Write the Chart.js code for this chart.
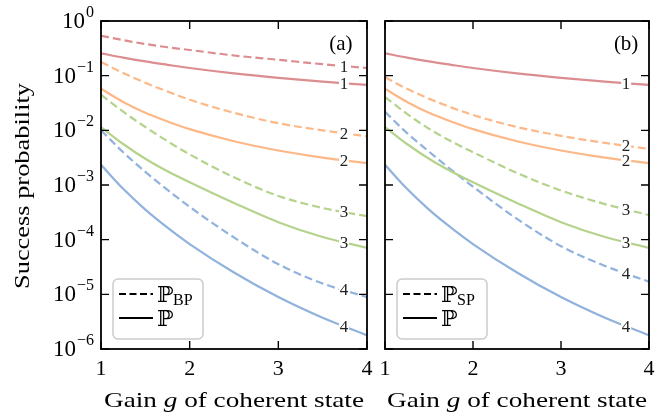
<!DOCTYPE html>
<html>
<head>
<meta charset="utf-8">
<script src="https://cdn.jsdelivr.net/npm/chart.js@4/dist/chart.umd.min.js"></script>
<style>
  html, body { margin: 0; padding: 0; background: #fff; }
  #wrap { position: relative; width: 664px; height: 413px; overflow: hidden; }
  canvas { position: absolute; top: 0; }
</style>
</head>
<body>
<div id="wrap">
  <canvas id="left" width="380" height="413" style="left:0"></canvas>
  <canvas id="right" width="292" height="413" style="left:372px"></canvas>
</div>
<script>
// gain g of the coherent state
const gain = [1, 1.25, 1.5, 1.75, 2, 2.5, 3, 3.5, 4];

// plain success probability P, photon numbers 1..4 (same in both panels)
const p1 = [0.257, 0.214, 0.182, 0.158, 0.138, 0.110, 0.0912, 0.0776, 0.0676];
const p2 = [0.0575, 0.0331, 0.0209, 0.0145, 0.0105, 0.00631, 0.00427, 0.00316, 0.00251];
const p3 = [0.0115, 0.00562, 0.00302, 0.00178, 0.00112, 0.000468, 0.000209, 0.000112, 0.0000708];
const p4 = [0.00234, 0.000851, 0.000355, 0.000166, 0.0000832, 0.0000251, 0.0000089, 0.00000372, 0.00000178];

// panel (a): P_BP
const pBP1 = [0.537, 0.447, 0.380, 0.331, 0.295, 0.234, 0.195, 0.162, 0.138];
const pBP2 = [0.178, 0.112, 0.0741, 0.0513, 0.0363, 0.0209, 0.0135, 0.0100, 0.00776];
const pBP3 = [0.0447, 0.0219, 0.0115, 0.00631, 0.00363, 0.00138, 0.000631, 0.000380, 0.000269];
const pBP4 = [0.01, 0.00398, 0.00174, 0.000813, 0.000398, 0.000110, 0.0000355, 0.0000158, 0.0000089];

// panel (b): P_SP
const pSP2 = [0.0933, 0.0575, 0.0380, 0.0263, 0.0191, 0.0115, 0.00794, 0.00589, 0.00457];
const pSP3 = [0.0407, 0.0200, 0.0107, 0.00631, 0.00398, 0.00166, 0.000794, 0.000447, 0.000282];
const pSP4 = [0.0219, 0.00891, 0.00407, 0.00191, 0.000933, 0.000240, 0.0000759, 0.0000331, 0.0000170];

const xTicks = [1, 2, 3, 4];
const yDecades = [0, -1, -2, -3, -4, -5, -6];

const colors = { 1: "#db8d90", 2: "#fdb888", 3: "#b5d38c", 4: "#91b2dd" };
const SERIF = "'Liberation Serif', 'DejaVu Serif', serif";
const LABEL_G = 3.74;

function series(vals, n, dashed) {
  return {
    data: gain.map((g, i) => ({ x: g, y: vals[i] })),
    borderColor: colors[n],
    borderWidth: 2.2,
    borderDash: dashed ? [8, 4] : [],
    pointRadius: 0,
    cubicInterpolationMode: "monotone",
    fill: false,
    tag: String(n),
  };
}

function yAt(meta, px) {
  const pts = meta.data;
  for (let i = 0; i < pts.length - 1; i++) {
    const a = pts[i], b = pts[i + 1];
    if (px >= a.x && px <= b.x) {
      const t = (px - a.x) / (b.x - a.x);
      return a.y + t * (b.y - a.y);
    }
  }
  return pts[pts.length - 1].y;
}

function fitText(ctx, text, x, y, width) {
  const w = ctx.measureText(text).width;
  ctx.save();
  ctx.translate(x, y);
  ctx.scale(width / w, 1);
  ctx.fillText(text, 0, 0);
  ctx.restore();
}

function framePlugin(opts) {
  return {
    id: "frame",
    afterDatasetsDraw(chart) {
      const ctx = chart.ctx;
      const { left, right, top, bottom } = chart.chartArea;
      const xs = chart.scales.x, ys = chart.scales.y;
      ctx.save();

      // curve labels with white knock-out
      ctx.font = "17px " + SERIF;
      ctx.textAlign = "center";
      ctx.textBaseline = "middle";
      chart.data.datasets.forEach((ds, i) => {
        const meta = chart.getDatasetMeta(i);
        const px = xs.getPixelForValue(LABEL_G);
        const py = yAt(meta, px);
        ctx.fillStyle = "#fff";
        ctx.fillRect(px - 5, py - 6, 10, 12);
        ctx.fillStyle = "#222";
        ctx.fillText(ds.tag, px, py + 1);
      });

      // frame
      ctx.strokeStyle = "#000";
      ctx.lineWidth = 1.8;
      ctx.strokeRect(left, top, right - left, bottom - top);

      // inward ticks
      ctx.lineWidth = 1.4;
      ctx.beginPath();
      xTicks.forEach(v => {
        const px = xs.getPixelForValue(v);
        ctx.moveTo(px, bottom); ctx.lineTo(px, bottom - 8);
        ctx.moveTo(px, top); ctx.lineTo(px, top + 8);
      });
      yDecades.forEach(e => {
        const py = ys.getPixelForValue(Math.pow(10, e));
        ctx.moveTo(left, py); ctx.lineTo(left + 8, py);
        ctx.moveTo(right, py); ctx.lineTo(right - 8, py);
      });
      ctx.stroke();

      // x tick labels
      ctx.fillStyle = "#000";
      ctx.font = "22px " + SERIF;
      ctx.textAlign = "center";
      ctx.textBaseline = "middle";
      xTicks.forEach(v => ctx.fillText(String(v), xs.getPixelForValue(v), 369));

      // x title
      ctx.textAlign = "left";
      ctx.textBaseline = "alphabetic";
      const cx = (left + right) / 2;
      const parts = [["Gain ", ""], ["g", "italic "], [" of coherent state", ""]];
      let total = 0;
      parts.forEach(p => { ctx.font = p[1] + "21px " + SERIF; total += ctx.measureText(p[0]).width; });
      const k = 260 / total;
      let x0 = cx - 130;
      parts.forEach(p => {
        ctx.font = p[1] + "21px " + SERIF;
        const w = ctx.measureText(p[0]).width * k;
        fitText(ctx, p[0], x0, 407, w);
        x0 += w;
      });

      // y axis labels and title (left panel only)
      if (opts.yLabels) {
        yDecades.forEach(e => {
          const py = ys.getPixelForValue(Math.pow(10, e));
          const sup = e === 0 ? "0" : "\u2212" + (-e);
          ctx.font = "16px " + SERIF;
          const sw = ctx.measureText(sup).width;
          ctx.textAlign = "right";
          ctx.fillText(sup, 94, py - 4);
          ctx.font = "23px " + SERIF;
          ctx.textBaseline = "middle";
          ctx.fillText("10", 94 - sw - 1, py + 1);
          ctx.textBaseline = "alphabetic";
        });
        ctx.save();
        ctx.translate(29, 186);
        ctx.rotate(-Math.PI / 2);
        ctx.font = "21px " + SERIF;
        ctx.textAlign = "left";
        fitText(ctx, "Success probability", -103, 0, 206);
        ctx.restore();
      }

      // panel letter
      ctx.font = "21px " + SERIF;
      ctx.textAlign = "center";
      ctx.textBaseline = "middle";
      ctx.fillText(opts.letter, xs.getPixelForValue(LABEL_G) + (opts.letter === "(a)" ? -3 : 0), 44);

      // legend
      const lx = left + opts.legendDx, ly = 279, lw = 90, lh = 60;
      ctx.beginPath();
      ctx.roundRect(lx, ly, lw, lh, 5);
      ctx.fillStyle = "rgba(255,255,255,0.85)";
      ctx.fill();
      ctx.strokeStyle = "#cccccc";
      ctx.lineWidth = 1.5;
      ctx.stroke();
      ctx.strokeStyle = "#000";
      ctx.lineWidth = 2.2;
      ctx.beginPath();
      ctx.setLineDash([7, 3.5]);
      ctx.moveTo(lx + 6, ly + 15); ctx.lineTo(lx + 40, ly + 15);
      ctx.stroke();
      ctx.setLineDash([]);
      ctx.beginPath();
      ctx.moveTo(lx + 6, ly + 39); ctx.lineTo(lx + 40, ly + 39);
      ctx.stroke();
      ctx.fillStyle = "#000";
      ctx.textAlign = "left";
      ctx.textBaseline = "alphabetic";
      ctx.font = "22px " + SERIF;
      ctx.fillText("\u2119", lx + 44, ly + 23);
      ctx.fillText("\u2119", lx + 44, ly + 47);
      ctx.font = "16px " + SERIF;
      ctx.fillText(opts.sub, lx + 60, ly + 26);

      ctx.restore();
    }
  };
}

function makeChart(id, datasets, padding, opts) {
  return new Chart(document.getElementById(id), {
    type: "line",
    data: { datasets },
    options: {
      responsive: false,
      animation: false,
      devicePixelRatio: 1,
      layout: { padding },
      plugins: { legend: { display: false }, tooltip: { enabled: false } },
      scales: {
        x: { type: "linear", min: 1, max: 4, display: false },
        y: { type: "logarithmic", min: 1e-6, max: 1, display: false },
      },
    },
    plugins: [framePlugin(opts)],
  });
}

makeChart("left", [
  series(pBP1, 1, true), series(p1, 1, false),
  series(pBP2, 2, true), series(p2, 2, false),
  series(pBP3, 3, true), series(p3, 3, false),
  series(pBP4, 4, true), series(p4, 4, false),
], { left: 101, right: 13, top: 21, bottom: 64 },
  { letter: "(a)", sub: "BP", yLabels: true, legendDx: 12 });

makeChart("right", [
  series(p1, 1, false),
  series(pSP2, 2, true), series(p2, 2, false),
  series(pSP3, 3, true), series(p3, 3, false),
  series(pSP4, 4, true), series(p4, 4, false),
], { left: 13, right: 15, top: 21, bottom: 64 },
  { letter: "(b)", sub: "SP", yLabels: false, legendDx: 12 });
</script>
</body>
</html>
